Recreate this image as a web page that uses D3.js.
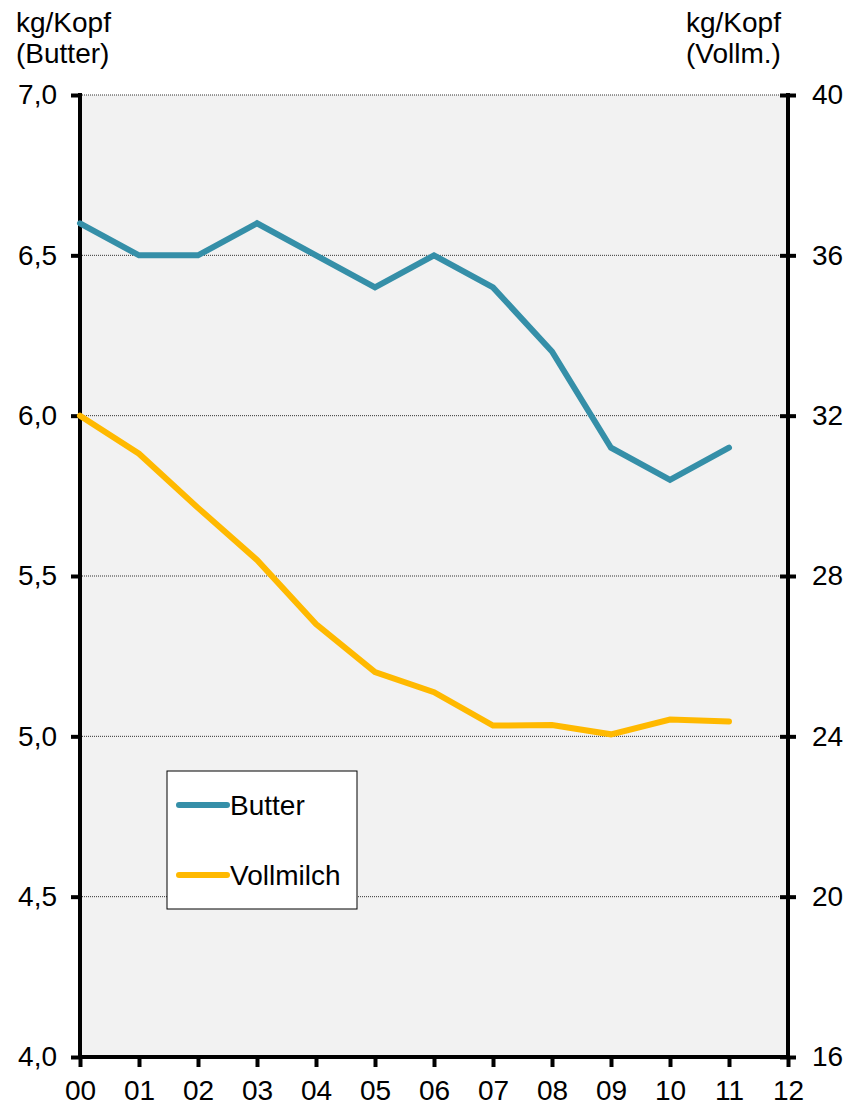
<!DOCTYPE html>
<html>
<head>
<meta charset="utf-8">
<script src="https://cdn.jsdelivr.net/npm/d3@7"></script>
<style>
  body { margin: 0; background: #fff; }
  text { font-family: "Liberation Sans", Arial, sans-serif; fill: #000; }
</style>
</head>
<body>
<div id="chart"></div>
<script>
const years = ["00", "01", "02", "03", "04", "05", "06", "07", "08", "09", "10", "11", "12"];
const butter = [6.6, 6.5, 6.5, 6.6, 6.5, 6.4, 6.5, 6.4, 6.2, 5.9, 5.8, 5.9];
const vollmilch = [32.0, 31.05, 29.7, 28.4, 26.8, 25.6, 25.1, 24.27, 24.28, 24.05, 24.42, 24.37];
const left_ticks = [4.0, 4.5, 5.0, 5.5, 6.0, 6.5, 7.0];
const right_ticks = [16, 20, 24, 28, 32, 36, 40];

function draw(element_id) {
    const margin = { top: 95, right: 58, bottom: 51, left: 80 };
    const plot_width = 846
    const plot_height = 1108
    const width = plot_width - margin.left - margin.right
    const height = plot_height - margin.top - margin.bottom
    const font = "28px"

    const svg = d3.select(`#${element_id}`)
        .append("svg")
        .attr("width", plot_width)
        .attr("height", plot_height)
        .append("g")
        .attr("transform", `translate(${margin.left},${margin.top})`);

    const x = d3.scaleLinear()
        .domain([0, years.length - 1])
        .range([0, width]);

    const y = d3.scaleLinear()
        .domain([4, 7])
        .range([height, 0]);

    const y2 = d3.scaleLinear()
        .domain([16, 40])
        .range([height, 0]);

    svg.append("rect")
        .attr("width", width)
        .attr("height", height)
        .attr("fill", "#f2f2f2");

    // gridlines
    svg.selectAll(".grid")
        .data(left_ticks.slice(1))
        .enter().append("line")
        .attr("x1", 0)
        .attr("x2", width)
        .attr("y1", d => y(d))
        .attr("y2", d => y(d))
        .attr("stroke", "#333")
        .attr("stroke-width", 1)
        .attr("stroke-dasharray", "1,1");

    const fmt = d => d3.format(".1f")(d).replace(".", ",");

    const left_axis = svg.append("g")
        .call(d3.axisLeft(y).tickValues(left_ticks).tickFormat(fmt).tickSize(9).tickPadding(14));

    const right_axis = svg.append("g")
        .attr("transform", `translate(${width},0)`)
        .call(d3.axisRight(y2).tickValues(right_ticks).tickSize(8).tickPadding(16));
    right_axis.selectAll(".tick line").attr("x1", -8);

    const bottom_axis = svg.append("g")
        .attr("transform", `translate(0,${height})`)
        .call(d3.axisBottom(x).tickValues(d3.range(years.length)).tickFormat(i => years[i]).tickSize(10).tickPadding(13));

    [left_axis, right_axis, bottom_axis].forEach(a => {
        a.select(".domain").attr("stroke", "#000").attr("stroke-width", 4);
        a.selectAll(".tick line").attr("stroke", "#000").attr("stroke-width", 4);
        a.selectAll("text").attr("font-size", font).attr("font-family", "Liberation Sans, Arial, sans-serif");
    });
    left_axis.select(".domain").attr("d", `M0,-2V${height}`);
    right_axis.select(".domain").attr("d", `M0,-2V${height}`);
    bottom_axis.select(".domain").attr("d", `M-2,0H${width + 2}`);

    const line = d3.line()
        .x((d, i) => x(i))
        .y(d => y(d));
    const line2 = d3.line()
        .x((d, i) => x(i))
        .y(d => y2(d));

    svg.append("path")
        .datum(vollmilch)
        .attr("fill", "none")
        .attr("stroke", "#ffb900")
        .attr("stroke-width", 6)
        .attr("stroke-linecap", "round")
        .attr("d", line2);

    svg.append("path")
        .datum(butter)
        .attr("fill", "none")
        .attr("stroke", "#358fa8")
        .attr("stroke-width", 6)
        .attr("stroke-linecap", "round")
        .attr("d", line);

    // legend
    const legend = svg.append("g")
        .attr("transform", "translate(87,676)");
    legend.append("rect")
        .attr("width", 190)
        .attr("height", 138)
        .attr("fill", "#fff")
        .attr("stroke", "#000")
        .attr("stroke-width", 1);
    [["Butter", "#358fa8", 34], ["Vollmilch", "#ffb900", 104]].forEach(([name, col, ly]) => {
        legend.append("line")
            .attr("x1", 12).attr("x2", 60)
            .attr("y1", ly).attr("y2", ly)
            .attr("stroke", col)
            .attr("stroke-width", 6)
            .attr("stroke-linecap", "round");
        legend.append("text")
            .attr("x", 63)
            .attr("y", ly + 10)
            .attr("font-size", font)
            .text(name);
    });

    // axis titles
    const root = d3.select(`#${element_id} svg`);
    root.append("text").attr("x", 16).attr("y", 32).attr("font-size", font).text("kg/Kopf");
    root.append("text").attr("x", 16).attr("y", 63).attr("font-size", font).text("(Butter)");
    root.append("text").attr("x", 686).attr("y", 32).attr("font-size", font).text("kg/Kopf");
    root.append("text").attr("x", 686).attr("y", 63).attr("font-size", font).text("(Vollm.)");
}

draw("chart");
</script>
</body>
</html>
